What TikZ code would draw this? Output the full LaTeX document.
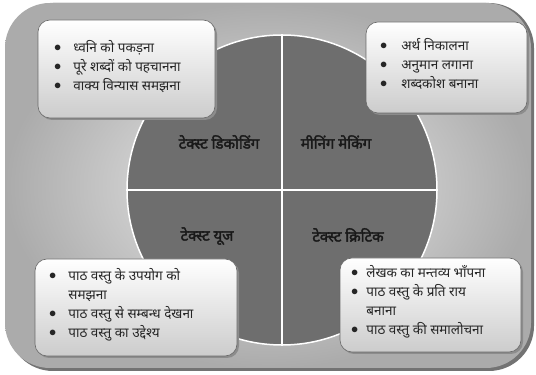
\documentclass[tikz,border=0pt]{standalone}
\usepackage{fontspec}
\newfontfamily\dev[Script=Devanagari]{Noto Sans}
\newfontfamily\devb[Script=Devanagari,FakeBold=2.4]{Noto Sans}
\usetikzlibrary{shadings}
\definecolor{disc}{HTML}{6E6E6E}
\definecolor{bgin}{HTML}{F0F0F0}
\definecolor{bgout}{HTML}{ABABAB}
\definecolor{boxbot}{HTML}{CCCCCC}
\definecolor{boxline}{HTML}{6A6A6A}
\tikzset{
  x=1pt,y=1pt,
  infobox/.style={rounded corners=12pt, top color=white, bottom color=boxbot, draw=boxline, line width=0.6pt},
  boxshadow/.style={rounded corners=12pt, fill=black!45},
  listtext/.style={font=\dev\fontsize{13.5}{19}\selectfont, text=black!85, inner sep=0pt, align=left},
  quadlabel/.style={font=\devb\fontsize{15}{17}\selectfont, text=black!90, inner sep=0pt},
}
\newcommand{\bl}{\raisebox{1pt}{$\bullet$}}
\begin{document}
\begin{tikzpicture}
\useasboundingbox (0,0) rectangle (536,375);
% outer panel
\fill[black!55, rounded corners=45pt] (8,4) rectangle (534,372);
\shade[inner color=bgin, outer color=bgout, rounded corners=45pt] (5,7) rectangle (531,372);
% disc
\node[circle, minimum size=310pt, inner sep=0pt, fill=disc, draw=white, line width=1.5pt] (c) at (282,185) {};
\draw[white, line width=2.5pt] (c.west) -- (c.east);
\draw[white, line width=2.5pt] (c.north) -- (c.south);
% quadrant labels
\node[quadlabel] (q1) at (219,233) {टेक्स्ट डिकोडिंग};
\node[quadlabel] (q2) at (336,233) {मीनिंग मेकिंग};
\node[quadlabel] (q3) at (207,139) {टेक्स्ट यूज};
\node[quadlabel] (q4) at (348,140) {टेक्स्ट क्रिटिक};
% top-left box
\fill[boxshadow] (40,255) rectangle (217,353);
\path[infobox] (38,257) rectangle (215,355);
\node[listtext, anchor=west] (t1) at (54,307) {\begin{tabular}{@{}l@{\hspace{12pt}}l@{}}\bl & ध्वनि को पकड़ना\\ \bl & पूरे शब्दों को पहचानना\\ \bl & वाक्य विन्यास समझना\end{tabular}};
% top-right box
\fill[boxshadow] (368,260) rectangle (529,351);
\path[infobox] (366,262) rectangle (527,353);
\node[listtext, anchor=west] (t2) at (380,309) {\begin{tabular}{@{}l@{\hspace{14pt}}l@{}}\bl & अर्थ निकालना\\ \bl & अनुमान लगाना\\ \bl & शब्दकोश बनाना\end{tabular}};
% bottom-left box
\fill[boxshadow] (37,17) rectangle (239,114);
\path[infobox] (35,19) rectangle (237,116);
\node[listtext, anchor=west] (t3) at (49,70) {\begin{tabular}{@{}l@{\hspace{12pt}}l@{}}\bl & पाठ वस्तु के उपयोग को\\ & समझना\\ \bl & पाठ वस्तु से सम्बन्ध देखना\\ \bl & पाठ वस्तु का उद्देश्य\end{tabular}};
% bottom-right box
\fill[boxshadow] (342,21) rectangle (523,115);
\path[infobox] (340,23) rectangle (521,117);
\node[listtext, anchor=west] (t4) at (351,73) {\begin{tabular}{@{}l@{\hspace{8pt}}l@{}}\bl & लेखक का मन्तव्य भाँपना\\ \bl & पाठ वस्तु के प्रति राय\\ & बनाना\\ \bl & पाठ वस्तु की समालोचना\end{tabular}};
\end{tikzpicture}
\end{document}
